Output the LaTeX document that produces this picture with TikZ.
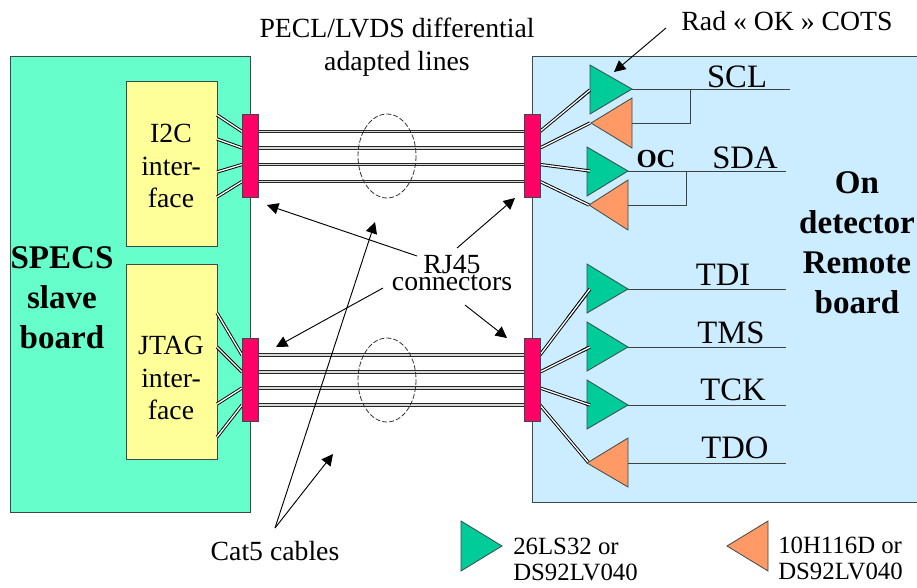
\documentclass[tikz,border=0pt]{standalone}
\usepackage{fontspec}
\setmainfont{Liberation Serif}
\usetikzlibrary{arrows.meta}
\definecolor{boardgreen}{HTML}{66FFCC}
\definecolor{boardblue}{HTML}{CCECFF}
\definecolor{ifyellow}{HTML}{FFFF99}
\definecolor{connred}{HTML}{FF0066}
\definecolor{ampgreen}{HTML}{00CC99}
\definecolor{amporange}{HTML}{FF9966}
\definecolor{edge}{HTML}{3A4A4A}
\tikzset{
  board/.style={draw=edge,line width=.75pt},
  iface/.style={draw=edge,line width=.6pt,fill=ifyellow},
  rj/.style={draw=edge,line width=.6pt,fill=connred},
  ampg/.style={draw=edge,line width=.6pt,fill=ampgreen},
  ampo/.style={draw=edge,line width=.6pt,fill=amporange},
  pair/.style={draw=black,line width=.7pt,double=white,double distance=1pt},
  cable/.style={draw=black!85,line width=.95pt,double=black!15,double distance=.9pt},
  sig/.style={draw=black!75,line width=.75pt},
  call/.style={draw=black,line width=.7pt,-{Triangle[length=8.5pt,width=8.5pt]}},
  bundle/.style={draw=black!80,line width=.6pt,dash pattern=on 3.75pt off 1.5pt},
  lab/.style={inner sep=0pt,font=\fontsize{20.8}{24.5}\selectfont,align=center},
  rjlab/.style={inner sep=0pt,font=\fontsize{20.8}{13}\selectfont,align=center},
  siglab/.style={inner sep=0pt,font=\fontsize{24.5}{28}\selectfont,anchor=base},
  blab/.style={inner sep=0pt,font=\fontsize{24.8}{30}\selectfont\bfseries,align=center},
  oclab/.style={inner sep=0pt,font=\fontsize{19.5}{22}\selectfont\bfseries,anchor=base},
  sm/.style={inner sep=0pt,font=\fontsize{18.6}{19.5}\selectfont,align=left,anchor=west}
}
\begin{document}
\begin{tikzpicture}[x=.75pt,y=-.75pt]
\useasboundingbox (0,0) rectangle (917,587);
% boards
\path[board,fill=boardgreen] (10,56) rectangle (250,512);
\fill[boardblue] (532,56) rectangle (917,502);
\draw[board] (917,56) -- (532,56) -- (532,502) -- (917,502);
% interfaces
\path[iface] (126,81) rectangle (217,246);
\path[iface] (126,264) rectangle (217,459);
% coordinates on connectors and interfaces
\foreach \n/\y in {a/131.5,b/148,c/164.5,d/181.5,e/355,f/372,g/388,h/405}{
  \coordinate (L\n) at (242,\y);
  \coordinate (R\n) at (258,\y);
  \coordinate (M\n) at (524,\y);
  \coordinate (N\n) at (540,\y);
}
% horizontal cables
\foreach \n in {a,b,c,d,e,f,g,h}{\draw[cable] (R\n) -- (M\n);}
% ellipses
\draw[bundle] (387,156) ellipse [x radius=29,y radius=42];
\draw[bundle] (387,380) ellipse [x radius=29,y radius=42];
% fan-out left
\coordinate (ia) at (217,115); \coordinate (ib) at (217,139);
\coordinate (ic) at (217,172); \coordinate (id) at (217,197);
\coordinate (ie) at (217,313); \coordinate (if) at (217,347);
\coordinate (ig) at (217,404); \coordinate (ih) at (217,437);
\foreach \n in {a,b,c,d,e,f,g,h}{\draw[pair] (i\n) -- (L\n);}
% fan-out right
\coordinate (ta) at (590,90); \coordinate (tb) at (590,123);
\coordinate (tc) at (590,171); \coordinate (td) at (589,205);
\coordinate (te) at (590,289); \coordinate (tf) at (590,347);
\coordinate (tg) at (590,405); \coordinate (th) at (588,462);
\foreach \n in {a,b,c,d,e,f,g,h}{\draw[pair] (N\n) -- (t\n);}
% connectors
\path[rj] (242,114) rectangle (258,197);
\path[rj] (242,338) rectangle (258,421);
\path[rj] (524,114) rectangle (540,197);
\path[rj] (524,338) rectangle (540,421);
% signal lines
\coordinate (sclo) at (632,89); \coordinate (scle) at (790,89);
\coordinate (sclb) at (690,89); \coordinate (sclc) at (690,123); \coordinate (scli) at (632,123);
\coordinate (sdao) at (628,171); \coordinate (sdae) at (786,171);
\coordinate (sdab) at (686,171); \coordinate (sdac) at (686,205); \coordinate (sdai) at (628,205);
\draw[sig] (sclo) -- (scle);
\draw[sig] (sclb) -- (sclc) -- (scli);
\draw[sig] (sdao) -- (sdae);
\draw[sig] (sdab) -- (sdac) -- (sdai);
\coordinate (tdio) at (628,289); \coordinate (tdie) at (786,289);
\coordinate (tmso) at (628,347); \coordinate (tmse) at (786,347);
\coordinate (tcko) at (628,405); \coordinate (tcke) at (786,405);
\coordinate (tdoo) at (628,463); \coordinate (tdoe) at (786,463);
\draw[sig] (tdio) -- (tdie);
\draw[sig] (tmso) -- (tmse);
\draw[sig] (tcko) -- (tcke);
\draw[sig] (tdoo) -- (tdoe);
% amplifiers
\path[ampg] (590,65) -- (590,114) -- (632,89) -- cycle;
\path[ampo] (632,98) -- (632,148) -- (591,123) -- cycle;
\path[ampg] (587,147) -- (587,196) -- (628,171) -- cycle;
\path[ampo] (628,180) -- (628,230) -- (589,205) -- cycle;
\path[ampg] (587,264) -- (587,313) -- (628,289) -- cycle;
\path[ampg] (587,322) -- (587,371) -- (628,347) -- cycle;
\path[ampg] (587,380) -- (587,429) -- (628,405) -- cycle;
\path[ampo] (628,438) -- (628,487) -- (587,463) -- cycle;
\path[ampg] (461,521) -- (461,571) -- (502,546) -- cycle;
\path[ampo] (768,521) -- (768,571) -- (727,546) -- cycle;
% pair ends over the amplifiers
\foreach \n in {a,c,e,f,g}{\draw[pair,shorten <=35pt] (N\n) -- (t\n);}
% labels
\node[lab] (tpecl) at (397,47) {PECL/LVDS differential\\adapted lines};
\node[lab] (trad) at (787,21) {Rad « OK » COTS};
\node[siglab] (tscl) at (737,87) {SCL};
\node[siglab] (tsda) at (745,168) {SDA};
\node[oclab] (toc) at (656,167) {OC};
\node[siglab] (ttdi) at (723,285) {TDI};
\node[siglab] (ttms) at (731,343) {TMS};
\node[siglab] (ttck) at (733,400) {TCK};
\node[siglab] (ttdo) at (735,458) {TDO};
\node[lab] (ti2c) at (171,166) {I2C\\inter-\\face};
\node[lab] (tjtag) at (171,378) {JTAG\\inter-\\face};
\node[blab] (tspecs) at (62,298) {SPECS\\slave\\board};
\node[blab] (ton) at (857,243) {On\\detector\\Remote\\board};
\node[rjlab] (trj) at (452,273) {RJ45\\connectors};
\node[lab] (tcat) at (275,551) {Cat5 cables};
\node[sm] (tls) at (513,559) {26LS32 or\\DS92LV040};
\node[sm] (thh) at (778,558) {10H116D or\\DS92LV040};
% callouts
\coordinate (radfrom) at (666,28); \coordinate (radto) at (614,72);
\draw[call] (radfrom) -- (radto);
\coordinate (rj1) at (417,256); \coordinate (rj2) at (267,205);
\coordinate (rj3) at (457,248); \coordinate (rj4) at (515,198);
\coordinate (rj5) at (383,288); \coordinate (rj6) at (276,347);
\coordinate (rj7) at (465,305); \coordinate (rj8) at (507,338);
\draw[call] (rj1) -- (rj2);
\draw[call] (rj3) -- (rj4);
\draw[call] (rj5) -- (rj6);
\draw[call] (rj7) -- (rj8);
\coordinate (c0) at (275,528); \coordinate (c1) at (375,222); \coordinate (c2) at (333,454);
\draw[call] (c0) -- (c1);
\draw[call] (c0) -- (c2);
\end{tikzpicture}
\end{document}
